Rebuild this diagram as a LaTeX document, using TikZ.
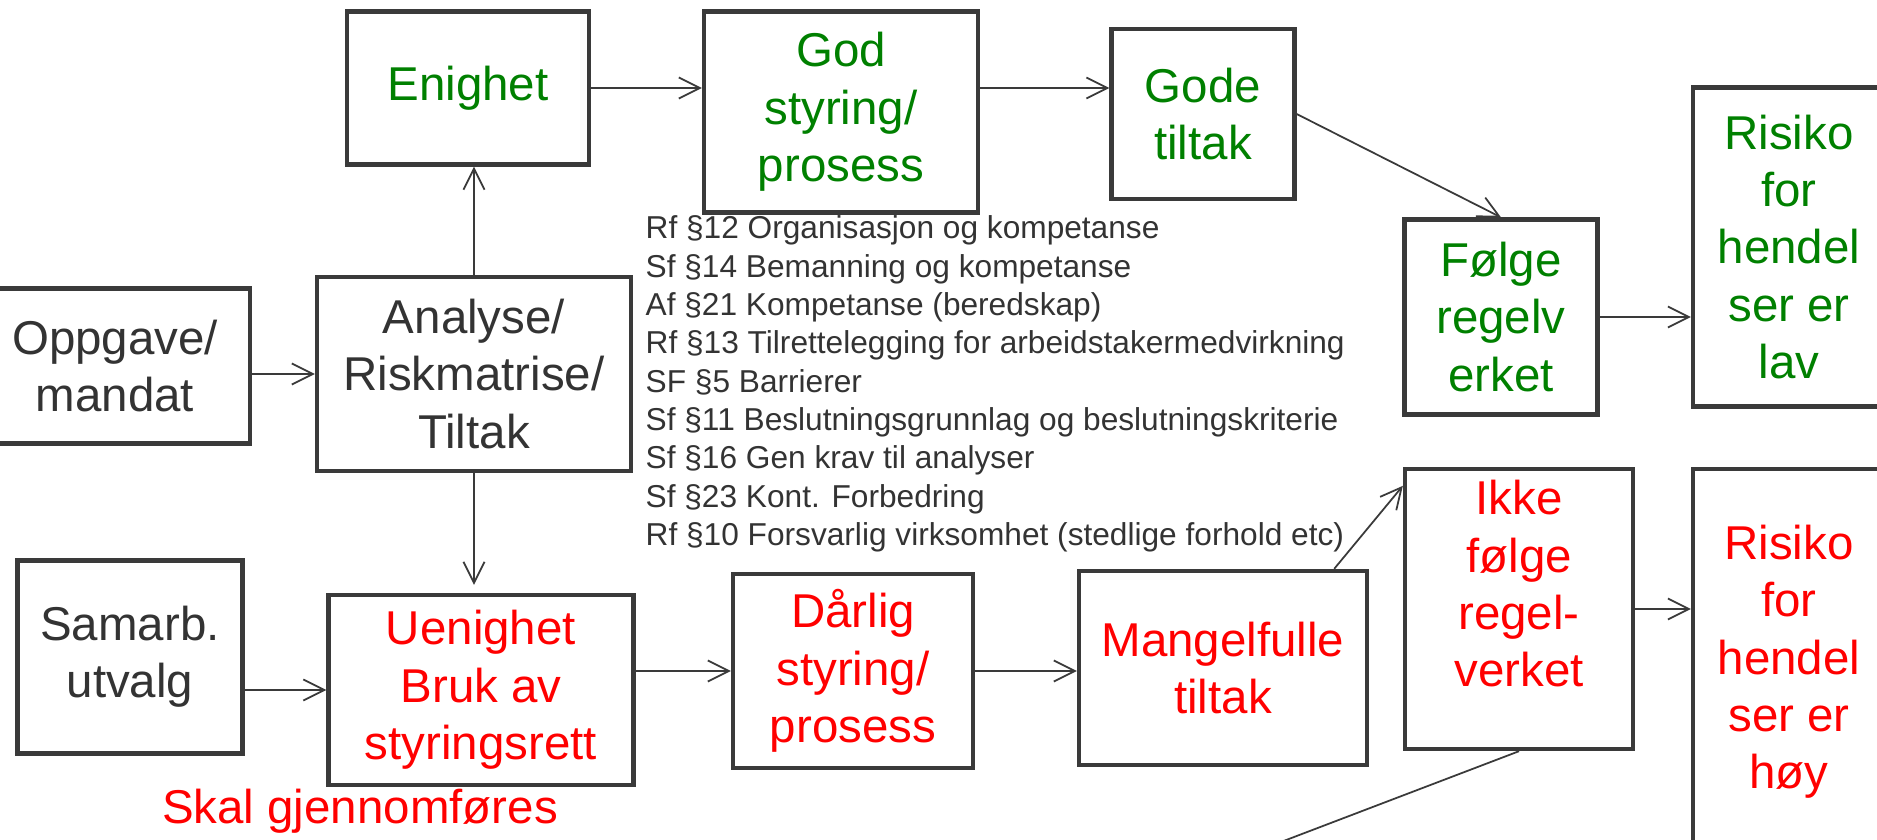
\documentclass[tikz,border=0pt]{standalone}
\usepackage{fontspec}
\setmainfont{Liberation Sans}
\usetikzlibrary{arrows.meta}
\definecolor{boxgray}{RGB}{58,58,58}
\definecolor{txtgray}{RGB}{51,51,51}
\definecolor{okgreen}{RGB}{0,128,0}
\definecolor{badred}{RGB}{255,0,0}
\tikzstyle{block} = [rectangle, draw=boxgray, line width=1.2pt, inner sep=0pt,
align=center, text=txtgray, font=\fontsize{13.5}{16.3}\selectfont]
\tikzstyle{good} = [block, text=okgreen]
\tikzstyle{bad} = [block, text=badred]
\tikzstyle{plain} = [inner sep=0pt, align=center, font=\fontsize{13.5}{16.3}\selectfont]
\tikzstyle{line} = [draw=boxgray, line width=0.5pt, -{Straight Barb[length=2.1mm,width=2.1mm]}]

\begin{document}
\begin{tikzpicture}[x=0.01cm, y=-0.01cm, auto]
\useasboundingbox (0,0) rectangle (1877,839);
\node [block, minimum width=2.70cm, minimum height=1.55cm] (oppgave) at (115,366) {Oppgave/\\mandat};
\node [block, minimum width=3.14cm, minimum height=1.94cm] (analyse) at (474,374) {Analyse/\\Riskmatrise/\\Tiltak};
\node [good, minimum width=2.42cm, minimum height=1.53cm] (enighet) at (468,88) {Enighet};
\node [good, minimum width=2.74cm, minimum height=2.01cm] (god) at (841,112) {God\\styring/\\prosess};
\node [good, minimum width=1.83cm, minimum height=1.70cm] (gode) at (1203,114) {Gode\\tiltak};
\node [good, minimum width=1.93cm, minimum height=1.95cm] (folge) at (1501,317) {Følge\\regelv\\erket};
\node [good, minimum width=1.92cm, minimum height=3.19cm] (lav) at (1789,247) {Risiko\\for\\hendel\\ser er\\lav};
\node [block, minimum width=2.25cm, minimum height=1.93cm] (samarb) at (130,657) {Samarb.\\utvalg};
\node [bad, minimum width=3.05cm, minimum height=1.90cm] (uenighet) at (481,690) {Uenighet\\Bruk av\\styringsrett};
\node [bad, minimum width=2.40cm, minimum height=1.94cm] (darlig) at (853,671) {Dårlig\\styring/\\prosess};
\node [bad, minimum width=2.88cm, minimum height=1.94cm] (mangel) at (1223,668) {Mangelfulle\\tiltak};
\node [bad, minimum width=2.28cm, minimum height=2.80cm] (ikke) at (1519,609) {};
\node [plain, text=badred] (ikketxt) at ([yshift=0.25cm]ikke.center) {Ikke\\følge\\regel-\\verket};
\node [bad, minimum width=1.92cm, minimum height=3.86cm] (hoy) at (1789,662) {Risiko\\for\\hendel\\ser er\\høy};
\node [plain, text=badred] (skal) at (360,811) {Skal gjennomføres};
\node [anchor=west, inner sep=0pt, align=left, text=txtgray, font=\fontsize{9}{10.9}\selectfont] (regler) at (645,384)
{Rf §12 Organisasjon og kompetanse\\
Sf §14 Bemanning og kompetanse\\
Af §21 Kompetanse (beredskap)\\
Rf §13 Tilrettelegging for arbeidstakermedvirkning\\
SF §5 Barrierer\\
Sf §11 Beslutningsgrunnlag og beslutningskriterie\\
Sf §16 Gen krav til analyser\\
Sf §23 Kont. Forbedring\\
Rf §10 Forsvarlig virksomhet (stedlige forhold etc)};
\coordinate (tail) at (1273,845);
\path [line] (analyse -| oppgave.east) -- (analyse.west);
\path [line] (analyse.north) -- (analyse.north |- enighet.south);
\path [line] (enighet.east) -- (enighet.east -| god.west);
\path [line] (enighet -| god.east) -- (enighet -| gode.west);
\path [line] (gode.east) -- (folge.north);
\path [line] (folge.east) -- (folge.east -| lav.west);
\path [line, shorten >=0.08cm] (analyse.south) -- (analyse.south |- uenighet.north);
\path [line] (uenighet -| samarb.east) -- (uenighet.west);
\path [line] (darlig -| uenighet.east) -- (darlig.west);
\path [line] (darlig.east) -- (darlig.east -| mangel.west);
\path [line] ([xshift=-0.35cm]mangel.north east) -- ([yshift=-0.19cm]ikke.north west);
\path [line] (ikke.east) -- (ikke.east -| hoy.west);
\path [line, -] (ikke.south) -- (tail);
\end{tikzpicture}
\end{document}
